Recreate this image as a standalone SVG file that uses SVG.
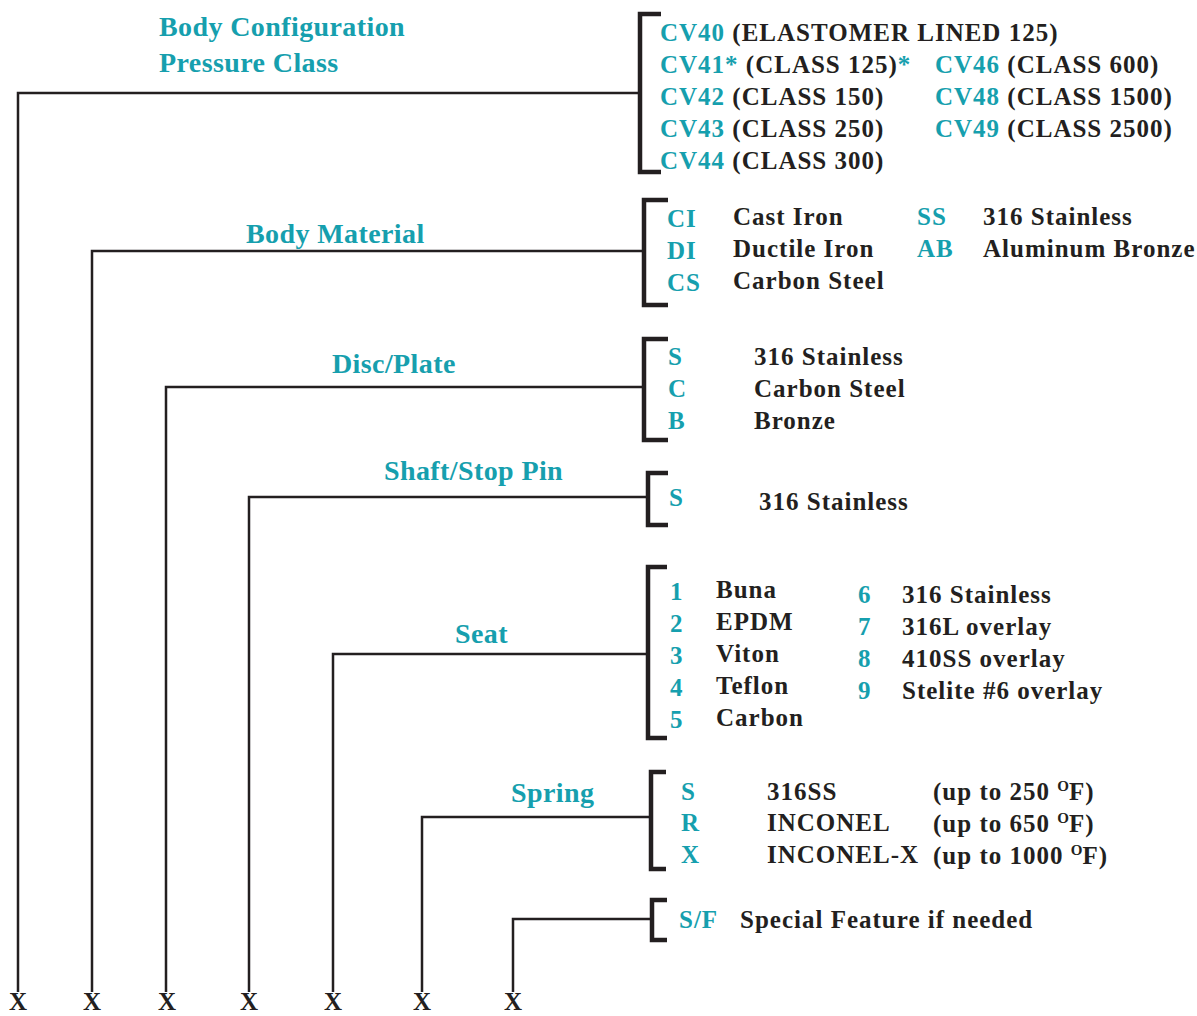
<svg xmlns="http://www.w3.org/2000/svg" width="1197" height="1016" viewBox="0 0 1197 1016">
<style>
text{font-family:"Liberation Serif","Times New Roman",serif;font-weight:bold;font-size:25px;letter-spacing:1px;fill:#231f20}
.t{fill:#169fae}
.h{fill:#169fae;font-size:28px;letter-spacing:0.4px}
.x{font-size:25px;letter-spacing:0}
.ln{fill:none;stroke:#231f20;stroke-width:2.5}
.br{fill:none;stroke:#231f20;stroke-width:4.5}
.sup{font-size:15px;letter-spacing:0}
</style>
<rect width="1197" height="1016" fill="#fff"/>
<g id="connectors">
<path class="ln" d="M18,992 V93 H638"/>
<path class="ln" d="M92,992 V251 H643"/>
<path class="ln" d="M166,992 V387 H643"/>
<path class="ln" d="M249,992 V497 H647"/>
<path class="ln" d="M333,992 V654 H648"/>
<path class="ln" d="M422,992 V817 H650"/>
<path class="ln" d="M513,992 V919 H652"/>
</g>
<g id="x-labels" text-anchor="middle">
<text class="x" x="18" y="1010">X</text>
<text class="x" x="92" y="1010">X</text>
<text class="x" x="167" y="1010">X</text>
<text class="x" x="249" y="1010">X</text>
<text class="x" x="333" y="1010">X</text>
<text class="x" x="422" y="1010">X</text>
<text class="x" x="513" y="1010">X</text>
</g>
<g id="body-config">
<text class="h" x="159" y="36">Body Configuration</text>
<text class="h" x="159" y="72">Pressure Class</text>
<path class="br" d="M661,14 H640 V172 H661"/>
<text x="660" y="41"><tspan class="t">CV40</tspan> (ELASTOMER LINED 125)</text>
<text x="660" y="73"><tspan class="t">CV41*</tspan> (CLASS 125)<tspan class="t">*</tspan></text>
<text x="660" y="105"><tspan class="t">CV42</tspan> (CLASS 150)</text>
<text x="660" y="137"><tspan class="t">CV43</tspan> (CLASS 250)</text>
<text x="660" y="169"><tspan class="t">CV44</tspan> (CLASS 300)</text>
<text x="935" y="73"><tspan class="t">CV46</tspan> (CLASS 600)</text>
<text x="935" y="105"><tspan class="t">CV48</tspan> (CLASS 1500)</text>
<text x="935" y="137"><tspan class="t">CV49</tspan> (CLASS 2500)</text>
</g>
<g id="body-material">
<text class="h" x="246" y="243">Body Material</text>
<path class="br" d="M668,200 H644 V305 H668"/>
<text class="t" x="667" y="227">CI</text>
<text class="t" x="667" y="259">DI</text>
<text class="t" x="667" y="291">CS</text>
<text x="733" y="225">Cast Iron</text>
<text x="733" y="257">Ductile Iron</text>
<text x="733" y="289">Carbon Steel</text>
<text class="t" x="917" y="225">SS</text>
<text class="t" x="917" y="257">AB</text>
<text x="983" y="225">316 Stainless</text>
<text x="983" y="257">Aluminum Bronze</text>
</g>
<g id="disc-plate">
<text class="h" x="332" y="373">Disc/Plate</text>
<path class="br" d="M668,339 H644 V440 H668"/>
<text class="t" x="668" y="365">S</text>
<text class="t" x="668" y="397">C</text>
<text class="t" x="668" y="429">B</text>
<text x="754" y="365">316 Stainless</text>
<text x="754" y="397">Carbon Steel</text>
<text x="754" y="429">Bronze</text>
</g>
<g id="shaft-stop-pin">
<text class="h" x="384" y="480">Shaft/Stop Pin</text>
<path class="br" d="M668,473 H648 V525 H668"/>
<text class="t" x="669" y="506">S</text>
<text x="759" y="510">316 Stainless</text>
</g>
<g id="seat">
<text class="h" x="455" y="643">Seat</text>
<path class="br" d="M667,567 H648 V738 H667"/>
<text class="t" x="670" y="600">1</text>
<text class="t" x="670" y="632">2</text>
<text class="t" x="670" y="664">3</text>
<text class="t" x="670" y="696">4</text>
<text class="t" x="670" y="728">5</text>
<text x="716" y="598">Buna</text>
<text x="716" y="630">EPDM</text>
<text x="716" y="662">Viton</text>
<text x="716" y="694">Teflon</text>
<text x="716" y="726">Carbon</text>
<text class="t" x="858" y="603">6</text>
<text class="t" x="858" y="635">7</text>
<text class="t" x="858" y="667">8</text>
<text class="t" x="858" y="699">9</text>
<text x="902" y="603">316 Stainless</text>
<text x="902" y="635">316L overlay</text>
<text x="902" y="667">410SS overlay</text>
<text x="902" y="699">Stelite #6 overlay</text>
</g>
<g id="spring">
<text class="h" x="511" y="802">Spring</text>
<path class="br" d="M666,772 H651 V869 H666"/>
<text class="t" x="681" y="800">S</text>
<text class="t" x="681" y="831">R</text>
<text class="t" x="681" y="863">X</text>
<text x="767" y="800">316SS</text>
<text x="767" y="831">INCONEL</text>
<text x="767" y="863">INCONEL-X</text>
<text x="933" y="800">(up to 250 <tspan class="sup" dy="-9">O</tspan><tspan dy="9">F)</tspan></text>
<text x="933" y="832">(up to 650 <tspan class="sup" dy="-9">O</tspan><tspan dy="9">F)</tspan></text>
<text x="933" y="864">(up to 1000 <tspan class="sup" dy="-9">O</tspan><tspan dy="9">F)</tspan></text>
</g>
<g id="special-feature">
<path class="br" d="M667,900 H652 V940 H667"/>
<text class="t" x="679" y="928">S/F</text>
<text x="740" y="928">Special Feature if needed</text>
</g>
</svg>
